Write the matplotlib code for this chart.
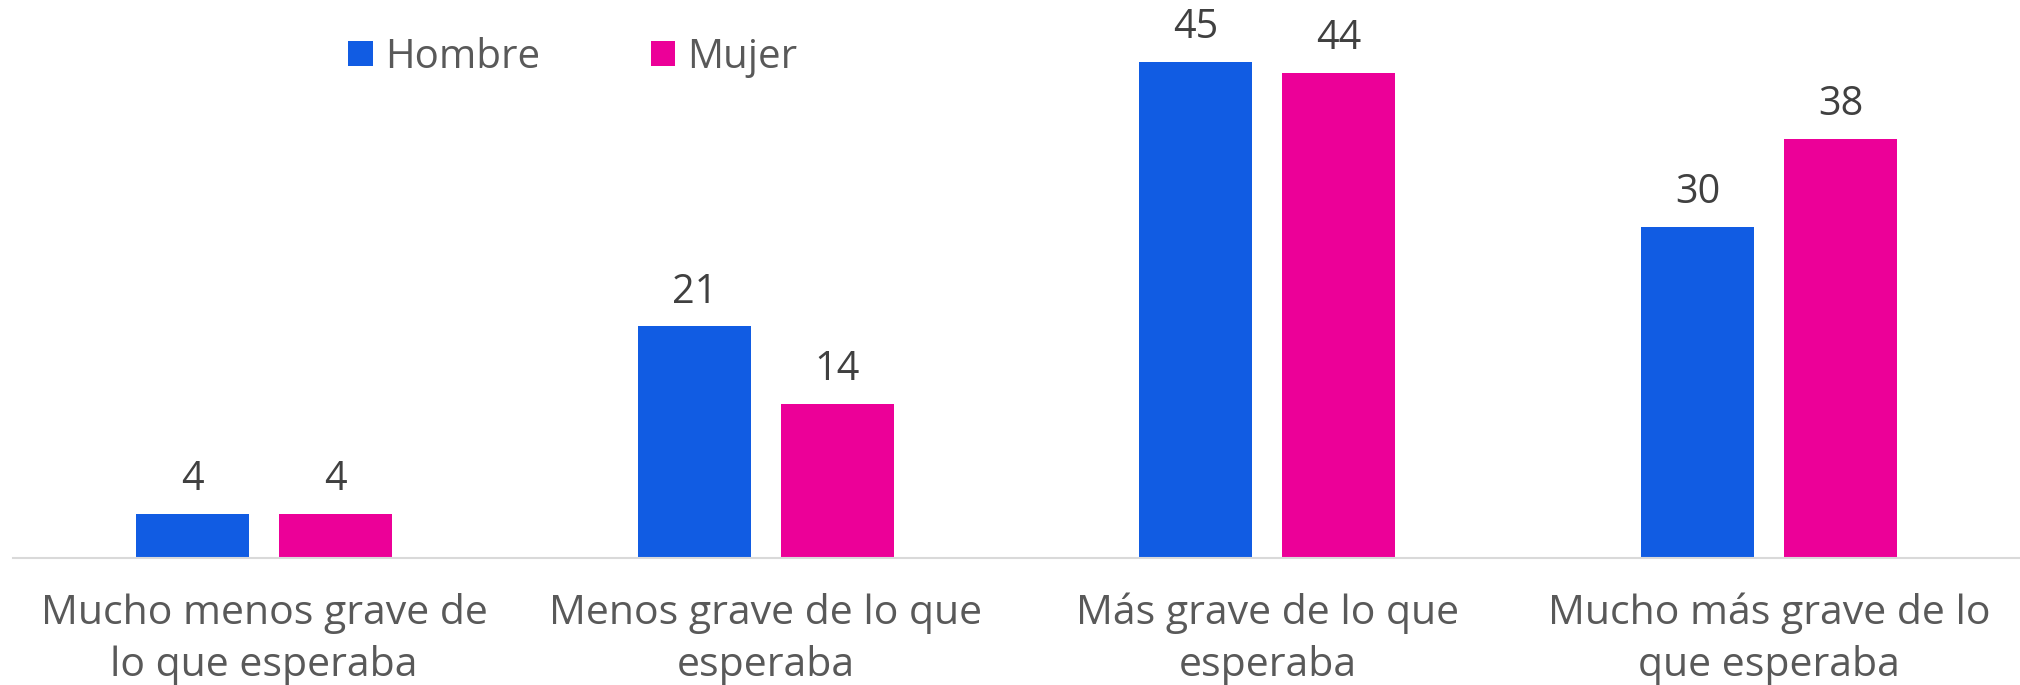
import matplotlib
matplotlib.use("Agg")
import matplotlib.pyplot as plt
import numpy as np

categories = [
    "Mucho menos grave de\nlo que esperaba",
    "Menos grave de lo que\nesperaba",
    "Más grave de lo que\nesperaba",
    "Mucho más grave de lo\nque esperaba",
]
series_names = ["Hombre", "Mujer"]
hombre = [4, 21, 45, 30]
mujer = [4, 14, 44, 38]

colors = ["#115CE3", "#EC0098"]
plt.rcParams["font.family"] = ["Open Sans", "DejaVu Sans"]

fig = plt.figure(figsize=(20.2, 6.85), dpi=100)
ax = fig.add_axes([0.0065, 0.1854, 0.9935, 0.8146])

x = np.arange(len(categories))
width = 0.225
offset = 0.1425
bars_h = ax.bar(x - offset, hombre, width, color=colors[0], label=series_names[0])
bars_m = ax.bar(x + offset, mujer, width, color=colors[1], label=series_names[1])

for bars, vals in ((bars_h, hombre), (bars_m, mujer)):
    for b, v in zip(bars, vals):
        ax.annotate(f"{v}", (b.get_x() + b.get_width() / 2, v),
                    xytext=(0, 10), textcoords="offset points",
                    ha="center", va="bottom", fontsize=28.5, color="#404040")

ax.set_xlim(-0.5, 3.5)
ax.set_ylim(0, 50.6)
ax.set_xticks(x)
ax.set_xticklabels(categories, fontsize=29.5, color="#595959", linespacing=1.36)
ax.tick_params(axis="x", length=0, pad=25)
ax.set_yticks([])
for side in ("top", "right", "left"):
    ax.spines[side].set_visible(False)
ax.spines["bottom"].set_color("#D9D9D9")
ax.spines["bottom"].set_linewidth(1.5)

leg = ax.legend(loc="upper left", bbox_to_anchor=(0.149, 0.998), ncol=2, frameon=False,
                fontsize=29, handlelength=0.6, handleheight=0.6, handletextpad=0.3,
                columnspacing=2.75, labelcolor="#595959")

fig.savefig("out.png", dpi=100, facecolor="white")
